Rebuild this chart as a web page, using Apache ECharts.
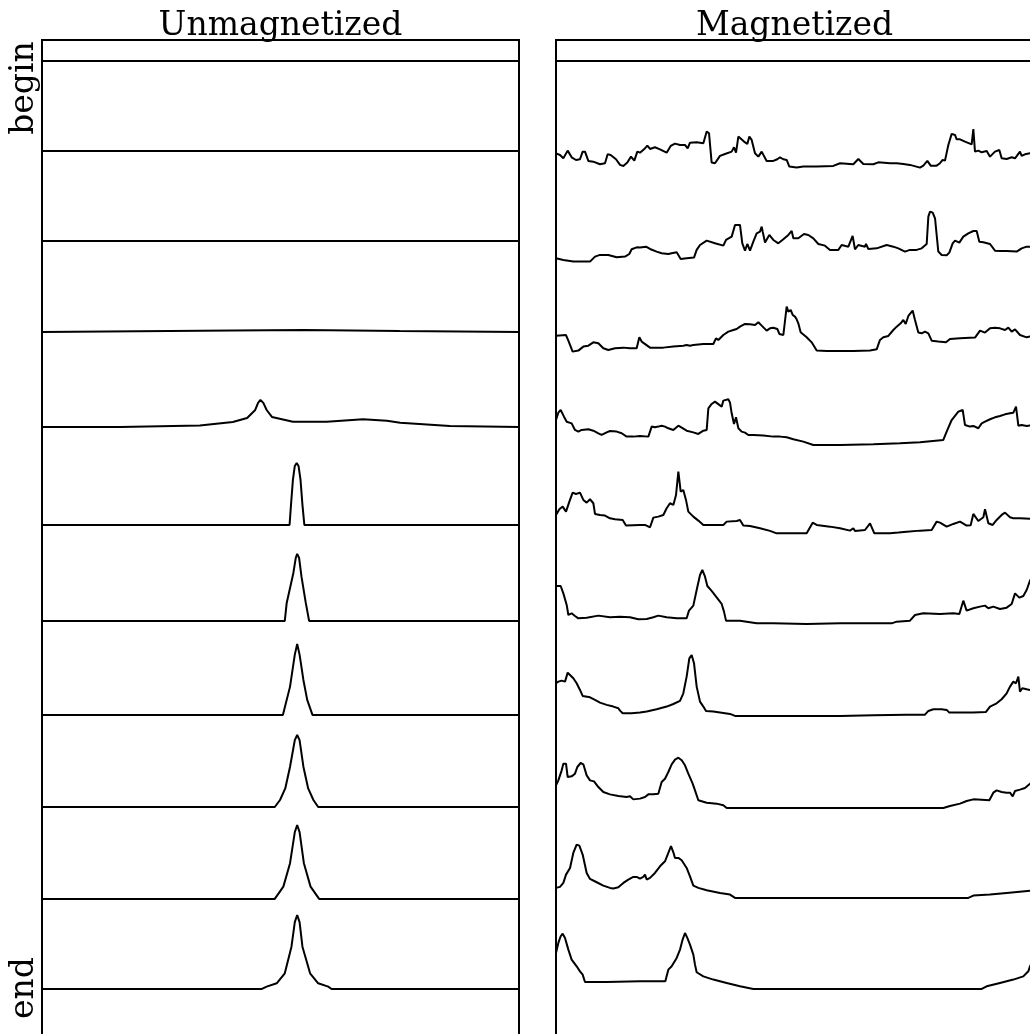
<!DOCTYPE html>
<html><head><meta charset="utf-8">
<script src="https://cdn.jsdelivr.net/npm/echarts@6/dist/echarts.min.js"></script>
<style>html,body{margin:0;padding:0;background:#fff;overflow:hidden}#c{width:1030px;height:1034px}</style>
</head><body><div id="c"></div>
<script>
// ---- labels ----
const panelTitles = ['Unmagnetized', 'Magnetized'];
const stageLabels = ['begin', 'end'];

// ---- trace offsets (in units of trace spacing, top = begin) ----
const baseUnmag = [10.0, 9.030, 8.060, 7.080, 6.056, 5.0, 3.966, 2.953, 1.961, 0.970, 0];
const baseMag   = [10.0, 8.858, 7.845, 6.875, 5.862, 4.914, 3.933, 2.942, 1.950, 0.981, 0];

// ---- Unmagnetized profiles: [position %, height] ----
const unmag0 = [[0,0],[100,0]];
const unmag1 = [[0,0],[100,0]];
const unmag2 = [[0,0],[100,0]];
const unmag3 = [[0,0],[40,0.015],[55,0.02],[75,0.01],[100,0]];
const unmag4 = [[0,0],[16.4,0],[33.1,0.016],[40.0,0.054],[43.0,0.097],[44.7,0.183],[45.3,0.26],[45.8,0.291],[46.4,0.26],[47.1,0.183],[48.2,0.108],[52.6,0.057],[59.7,0.057],[67.3,0.083],[72.3,0.068],[75.1,0.046],[85.5,0.011],[100,0]];
const unmag5 = [[0,0],[51.9,0],[52.2,0.216],[52.6,0.485],[53.0,0.636],[53.4,0.668],[53.78,0.636],[54.2,0.485],[54.6,0.216],[55.0,0],[100,0]];
const unmag6 = [[0,0],[50.9,0],[51.3,0.194],[52.7,0.517],[53.2,0.68],[53.5,0.722],[53.9,0.68],[54.4,0.477],[55.3,0.194],[56.0,0],[100,0]];
const unmag7 = [[0,0],[50.5,0],[52.0,0.305],[53.0,0.65],[53.5,0.765],[54.0,0.65],[54.8,0.377],[55.6,0.162],[56.7,0],[100,0]];
const unmag8 = [[0,0],[48.8,0],[49.9,0.075],[51.0,0.2],[52.0,0.434],[53.0,0.72],[53.5,0.776],[54.0,0.72],[54.8,0.434],[55.8,0.2],[56.9,0.075],[57.9,0],[100,0]];
const unmag9 = [[0,0],[48.8,0],[50.6,0.133],[52.0,0.385],[53.0,0.72],[53.5,0.797],[54.0,0.72],[54.9,0.385],[56.3,0.133],[58.1,0],[100,0]];
const unmag10 = [[0,0],[46.1,0],[47.1,0.025],[49.2,0.061],[50.9,0.169],[52.3,0.455],[53.0,0.72],[53.5,0.797],[54.0,0.72],[54.6,0.455],[56.2,0.169],[57.9,0.061],[60.0,0.025],[60.7,0],[100,0]];

// ---- Magnetized profiles: [position %, height] ----
const mag0 = [[0,0],[100,0]];
const mag1 = [[0,0.147],[0.84,0.129],[1.54,0.093],[2.45,0.176],[3.28,0.104],[4.19,0.075],[5.03,0.083],[5.59,0.165],[6.08,0.165],[6.78,0.065],[7.83,0.057],[9.22,0.029],[10.27,0.040],[10.83,0.136],[11.46,0.129],[12.58,0.083],[13.42,0.022],[14.12,0.011],[14.95,0.047],[15.72,0.111],[16.42,0.068],[17.05,0.165],[17.61,0.154],[18.45,0.190],[19.15,0.230],[19.71,0.194],[20.75,0.212],[21.80,0.190],[23.20,0.154],[24.04,0.226],[24.95,0.251],[26.00,0.237],[27.04,0.237],[27.60,0.201],[28.09,0.262],[29.49,0.266],[30.89,0.255],[31.59,0.381],[32.08,0.363],[32.63,0.047],[33.33,0.040],[34.38,0.119],[35.43,0.140],[36.83,0.165],[37.32,0.212],[37.74,0.154],[38.23,0.327],[39.41,0.273],[40.11,0.248],[40.53,0.327],[41.02,0.291],[41.72,0.147],[42.42,0.111],[43.12,0.165],[43.47,0.176],[44.16,0.065],[45.56,0.065],[46.40,0.083],[46.96,0.104],[47.66,0.083],[48.36,0.075],[48.92,0.004],[50.45,-0.007],[51.85,0.004],[54.65,0.004],[58.14,0.011],[59.54,0.040],[62.33,0.029],[63.38,0.086],[64.43,0.032],[66.53,0.029],[67.57,0.050],[70.02,0.040],[71.42,0.040],[72.82,0.032],[74.21,0.022],[76.31,-0.007],[77.01,0.014],[77.85,0.065],[78.55,0.014],[79.80,0.014],[80.50,0.040],[81.06,0.075],[81.55,0.068],[82.25,0.237],[82.95,0.356],[83.65,0.345],[84.00,0.298],[84.70,0.298],[85.74,0.273],[87.14,0.244],[87.49,0.409],[87.84,0.165],[88.54,0.176],[89.24,0.158],[90.29,0.172],[90.99,0.111],[92.03,0.165],[92.94,0.183],[93.43,0.093],[94.48,0.086],[95.53,0.104],[96.23,0.093],[97.27,0.165],[97.62,0.119],[98.32,0.136],[99.37,0.147],[100,0.147]];
const mag2 = [[0,0.029],[1.54,0.011],[3.63,-0.007],[7.13,-0.007],[8.18,0.047],[9.22,0.065],[10.97,0.065],[12.72,0.040],[14.47,0.047],[15.37,0.075],[15.86,0.126],[16.91,0.147],[17.61,0.144],[18.87,0.154],[19.71,0.129],[21.10,0.101],[22.15,0.083],[23.55,0.075],[24.25,0.083],[25.30,0.093],[25.65,0.083],[26.14,0.022],[27.39,0.029],[28.93,0.036],[29.49,0.119],[30.19,0.172],[31.59,0.219],[33.33,0.190],[35.08,0.165],[35.64,0.226],[36.83,0.262],[37.53,0.388],[38.57,0.388],[39.06,0.190],[39.62,0.111],[40.11,0.183],[40.67,0.111],[41.37,0.208],[42.07,0.298],[42.77,0.316],[43.12,0.370],[43.33,0.316],[43.82,0.198],[44.72,0.280],[45.56,0.226],[46.61,0.190],[47.66,0.233],[48.71,0.280],[49.41,0.323],[49.76,0.244],[50.80,0.244],[51.99,0.291],[52.90,0.280],[53.95,0.244],[55.00,0.183],[56.39,0.165],[57.44,0.119],[59.19,0.119],[59.89,0.172],[61.29,0.154],[62.19,0.269],[62.68,0.126],[63.38,0.172],[64.78,0.154],[64.99,0.183],[65.48,0.129],[67.23,0.136],[69.32,0.172],[70.72,0.154],[71.77,0.136],[73.17,0.101],[74.21,0.119],[75.61,0.119],[76.66,0.136],[77.71,0.183],[78.06,0.478],[78.41,0.532],[78.97,0.521],[79.46,0.460],[80.15,0.101],[80.85,0.065],[81.90,0.061],[82.46,0.090],[83.16,0.190],[83.65,0.219],[84.00,0.208],[84.56,0.198],[85.39,0.262],[86.44,0.298],[87.49,0.323],[88.19,0.323],[88.75,0.208],[89.59,0.201],[90.99,0.183],[92.03,0.111],[93.08,0.108],[94.48,0.108],[96.58,0.101],[97.62,0.136],[98.67,0.154],[100,0.154]];
const mag3 = [[0,0.165],[2.10,0.172],[2.59,0.111],[3.49,-0.007],[4.68,0.004],[5.73,0.047],[6.78,0.057],[7.83,0.093],[8.88,0.083],[9.92,0.029],[10.97,0.011],[12.37,0.029],[14.12,0.036],[15.51,0.029],[16.91,0.029],[17.47,0.147],[17.96,0.101],[19.71,0.036],[22.50,0.036],[24.60,0.047],[26.69,0.057],[27.39,0.065],[27.74,0.083],[28.09,0.057],[28.79,0.065],[30.89,0.075],[32.98,0.075],[33.54,0.136],[34.03,0.119],[35.08,0.172],[36.13,0.208],[37.18,0.226],[37.88,0.237],[38.57,0.262],[39.62,0.291],[40.67,0.287],[41.72,0.280],[42.42,0.309],[42.77,0.327],[43.33,0.262],[44.16,0.219],[44.86,0.244],[45.56,0.251],[46.40,0.237],[46.82,0.183],[47.66,0.172],[48.36,0.478],[48.71,0.424],[49.20,0.442],[49.62,0.388],[50.10,0.370],[50.45,0.341],[50.80,0.298],[51.29,0.201],[52.55,0.147],[53.60,0.093],[54.65,0.004],[56.74,0],[62.33,0],[65.83,0.004],[67.23,0.018],[67.92,0.119],[68.62,0.147],[69.67,0.162],[70.72,0.226],[71.42,0.262],[72.26,0.298],[72.82,0.334],[73.31,0.291],[73.87,0.377],[74.77,0.435],[75.26,0.334],[75.96,0.198],[76.66,0.190],[77.36,0.208],[78.06,0.190],[78.76,0.111],[80.15,0.101],[81.76,0.093],[82.60,0.129],[84.70,0.136],[87.84,0.144],[88.89,0.219],[89.94,0.198],[90.99,0.244],[92.03,0.251],[93.08,0.244],[94.13,0.226],[94.83,0.251],[95.53,0.208],[96.23,0.233],[97.27,0.172],[98.67,0.147],[100,0.162]];
const mag4 = [[0,0.269],[0.49,0.348],[0.98,0.377],[1.68,0.305],[2.24,0.251],[3.28,0.233],[3.98,0.162],[4.68,0.144],[5.38,0.162],[6.78,0.169],[7.83,0.154],[8.88,0.126],[9.57,0.108],[10.62,0.136],[11.32,0.151],[12.72,0.144],[13.77,0.126],[14.81,0.090],[16.21,0.090],[17.61,0.097],[19.36,0.090],[20.06,0.198],[20.75,0.190],[21.45,0.198],[22.15,0.208],[22.85,0.198],[23.55,0.180],[24.60,0.162],[25.65,0.208],[26.35,0.187],[27.39,0.154],[28.79,0.136],[29.84,0.119],[30.89,0.154],[31.59,0.162],[31.94,0.395],[32.63,0.442],[33.33,0.467],[33.68,0.456],[34.73,0.413],[35.08,0.478],[36.13,0.492],[36.48,0.456],[36.83,0.341],[37.32,0.226],[37.74,0.298],[38.23,0.180],[38.92,0.144],[39.62,0.133],[40.32,0.108],[41.37,0.108],[43.47,0.101],[45.56,0.090],[46.96,0.090],[48.36,0.083],[49.76,0.061],[51.85,0.036],[53.95,0],[59.54,0],[66.53,0.007],[72.12,0.018],[76.31,0.029],[81.20,0.054],[81.90,0.144],[82.95,0.269],[84.35,0.359],[85.26,0.377],[85.74,0.216],[86.79,0.198],[87.49,0.205],[88.54,0.180],[89.24,0.233],[89.94,0.251],[90.99,0.277],[92.03,0.298],[93.08,0.313],[94.13,0.330],[95.18,0.341],[95.88,0.348],[96.44,0.413],[96.93,0.208],[97.62,0.216],[98.67,0.205],[100,0.216]];
const mag5 = [[0,0.194],[0.70,0.255],[1.40,0.284],[2.10,0.230],[2.80,0.338],[3.49,0.435],[4.19,0.420],[5.03,0.435],[5.73,0.356],[6.43,0.327],[7.13,0.363],[7.83,0.320],[8.18,0.205],[9.22,0.194],[10.27,0.187],[11.32,0.158],[12.37,0.147],[13.98,0.140],[14.68,0.079],[17.61,0.086],[18.66,0.086],[19.71,0.061],[20.41,0.165],[21.45,0.176],[22.50,0.194],[23.20,0.266],[23.90,0.320],[24.60,0.302],[25.16,0.409],[25.65,0.661],[26.14,0.445],[26.69,0.463],[27.25,0.356],[27.74,0.230],[28.79,0.176],[29.84,0.133],[30.89,0.086],[32.98,0.086],[35.08,0.086],[35.78,0.122],[37.88,0.129],[38.57,0.140],[39.27,0.079],[40.67,0.075],[42.77,0.050],[44.86,0.022],[46.26,-0.004],[49.06,-0.004],[52.55,-0.004],[53.81,0.111],[54.65,0.086],[57.44,0.068],[59.54,0.050],[61.64,0.025],[62.33,0.050],[62.68,0.022],[64.78,0.032],[65.83,0.104],[66.74,-0.004],[70.02,-0.004],[71.77,0.004],[73.52,0.014],[76.31,0.025],[78.76,0.032],[79.80,0.122],[80.50,0.111],[81.90,0.068],[83.30,0.097],[84.70,0.122],[86.09,0.079],[86.93,0.083],[87.49,0.205],[88.54,0.129],[89.59,0.169],[89.94,0.255],[90.64,0.104],[91.54,0.086],[92.38,0.140],[93.43,0.194],[94.13,0.219],[95.18,0.169],[95.88,0.158],[96.23,0.140],[97.27,0.158],[100,0.151]];
const mag6 = [[0,0.409],[0.98,0.409],[1.54,0.330],[2.24,0.205],[2.59,0.097],[3.28,0.115],[3.98,0.086],[4.68,0.061],[6.43,0.068],[8.88,0.090],[11.32,0.072],[13.42,0.079],[15.51,0.072],[17.26,0.050],[19.01,0.054],[20.41,0.072],[21.45,0.090],[23.20,0.072],[25.30,0.061],[27.39,0.061],[27.88,0.144],[28.79,0.198],[29.49,0.366],[30.19,0.528],[30.68,0.582],[31.24,0.510],[31.73,0.409],[32.63,0.356],[33.68,0.287],[34.73,0.216],[35.22,0.133],[35.64,0.036],[38.57,0.036],[42.07,0.007],[45.56,0.007],[52.55,0],[59.54,0.007],[66.53,0.007],[70.37,0.007],[71.42,0.025],[74.21,0.036],[75.26,0.097],[77.01,0.115],[80.50,0.108],[83.30,0.115],[84.56,0.108],[85.39,0.251],[86.09,0.144],[87.49,0.169],[88.89,0.187],[89.94,0.198],[90.64,0.169],[91.68,0.187],[93.08,0.162],[94.48,0.176],[95.53,0.216],[96.23,0.330],[97.13,0.284],[97.97,0.302],[98.67,0.366],[99.37,0.467],[100,0.52]];
const mag7 = [[0,0.352],[0.49,0.370],[1.19,0.381],[1.89,0.370],[2.45,0.467],[2.94,0.442],[3.63,0.406],[4.33,0.352],[5.03,0.280],[5.59,0.216],[7.13,0.201],[8.18,0.172],[9.22,0.144],[10.62,0.119],[12.02,0.101],[13.07,0.083],[13.42,0.057],[13.98,0.029],[15.86,0.029],[17.61,0.036],[19.01,0.047],[21.10,0.072],[23.20,0.101],[24.60,0.129],[26.00,0.162],[26.69,0.244],[27.39,0.424],[27.95,0.621],[28.44,0.657],[28.93,0.568],[29.49,0.316],[30.19,0.154],[30.89,0.101],[31.45,0.054],[32.98,0.047],[36.48,0.022],[37.53,0],[45.56,0],[52.55,0],[59.54,0],[66.53,0.007],[73.52,0.014],[77.36,0.014],[78.06,0.054],[79.11,0.072],[80.85,0.072],[81.90,0.065],[82.46,0.036],[84.70,0.036],[87.49,0.036],[90.15,0.043],[90.99,0.101],[92.38,0.136],[93.43,0.180],[94.48,0.244],[95.18,0.316],[95.88,0.370],[96.44,0.352],[96.93,0.424],[97.27,0.262],[97.76,0.298],[98.67,0.287],[100,0.273]];
const mag8 = [[0,0.244],[0.49,0.298],[1.19,0.406],[1.54,0.478],[2.10,0.478],[2.45,0.334],[3.28,0.341],[3.98,0.370],[4.47,0.442],[5.17,0.485],[5.73,0.471],[6.43,0.352],[7.13,0.298],[7.97,0.287],[8.88,0.226],[9.92,0.172],[11.32,0.147],[13.07,0.129],[14.81,0.119],[15.51,0.126],[16.21,0.093],[17.61,0.101],[18.66,0.119],[19.36,0.147],[20.41,0.147],[21.45,0.154],[22.15,0.280],[22.85,0.316],[23.55,0.388],[24.25,0.471],[24.95,0.521],[25.65,0.542],[26.35,0.514],[27.04,0.460],[27.74,0.370],[28.65,0.262],[29.14,0.190],[29.84,0.083],[31.59,0.057],[33.68,0.047],[35.08,0.029],[35.78,0],[45.56,0],[59.54,0],[73.52,0],[81.20,0],[82.60,0.022],[84.70,0.047],[86.09,0.075],[87.49,0.093],[89.24,0.090],[90.85,0.083],[91.68,0.165],[92.38,0.190],[93.43,0.172],[94.48,0.165],[95.18,0.165],[95.74,0.126],[96.23,0.183],[97.27,0.198],[98.32,0.216],[99.37,0.262],[100,0.29]];
const mag9 = [[0,0.108],[0.84,0.119],[1.54,0.162],[2.10,0.251],[2.94,0.323],[3.63,0.485],[4.33,0.575],[4.89,0.564],[5.59,0.467],[6.43,0.269],[7.13,0.205],[8.53,0.169],[9.92,0.133],[11.32,0.108],[12.02,0.101],[13.07,0.115],[14.12,0.162],[15.16,0.198],[16.21,0.226],[16.91,0.226],[17.61,0.208],[18.31,0.226],[18.66,0.251],[19.01,0.198],[19.71,0.216],[20.75,0.269],[21.80,0.341],[22.85,0.395],[23.55,0.485],[24.11,0.557],[24.60,0.492],[24.95,0.431],[25.65,0.431],[26.35,0.406],[27.39,0.323],[28.09,0.233],[28.79,0.133],[29.84,0.108],[31.59,0.083],[34.38,0.054],[36.48,0.036],[37.53,0],[45.56,0],[59.54,0],[73.52,0],[86.44,0],[87.49,0.025],[90.99,0.036],[94.48,0.054],[100,0.081]];
const mag10 = [[0,0.388],[0.49,0.496],[0.98,0.568],[1.40,0.596],[1.89,0.550],[2.59,0.424],[3.28,0.316],[4.33,0.244],[5.03,0.190],[5.59,0.154],[6.08,0.075],[10.62,0.075],[17.61,0.083],[22.92,0.083],[23.55,0.208],[24.25,0.244],[25.30,0.334],[26.00,0.424],[26.55,0.532],[27.04,0.603],[27.53,0.550],[28.09,0.478],[28.79,0.370],[29.14,0.262],[29.49,0.180],[30.89,0.136],[32.98,0.101],[35.78,0.065],[38.57,0.029],[41.37,0],[52.55,0],[66.53,0],[80.50,0],[89.24,0],[90.29,0.029],[93.08,0.065],[95.88,0.101],[97.97,0.136],[99.02,0.190],[99.37,0.244],[100,0.30]];

const unmagTraces = [unmag0,unmag1,unmag2,unmag3,unmag4,unmag5,unmag6,unmag7,unmag8,unmag9,unmag10];
const magTraces = [mag0,mag1,mag2,mag3,mag4,mag5,mag6,mag7,mag8,mag9,mag10];

const chart = echarts.init(document.getElementById('c'), null, {renderer: 'canvas'});
const FONT = '"DejaVu Serif", "Liberation Serif", serif';

function mk(gi, prof, base) {
  return {
    type: 'line', xAxisIndex: gi, yAxisIndex: gi,
    data: prof.map(p => [p[0], base + p[1]]),
    symbol: 'none', showSymbol: false, silent: true, animation: false,
    lineStyle: {color: '#000', width: 2}, clip: true
  };
}

const series = [];
unmagTraces.forEach((t, i) => series.push(mk(0, t, baseUnmag[i])));
magTraces.forEach((t, i) => series.push(mk(1, t, baseMag[i])));

const yAx = {type: 'value', min: -0.55, max: 10.226, show: false};
const xAx = {type: 'value', min: 0, max: 100, show: false};

chart.setOption({
  backgroundColor: '#fff',
  animation: false,
  grid: [
    {left: 42, top: 40, width: 477, height: 1000, outerBoundsMode: 'none', containLabel: false, show: true, borderColor: '#000', borderWidth: 2, backgroundColor: 'transparent'},
    {left: 556, top: 40, width: 477, height: 1000, outerBoundsMode: 'none', containLabel: false, show: true, borderColor: '#000', borderWidth: 2, backgroundColor: 'transparent'}
  ],
  xAxis: [Object.assign({gridIndex: 0}, xAx), Object.assign({gridIndex: 1}, xAx)],
  yAxis: [Object.assign({gridIndex: 0}, yAx), Object.assign({gridIndex: 1}, yAx)],
  series: series,
  graphic: [
    {type: 'text', x: 280.5, y: 26, style: {text: panelTitles[0], font: '33px ' + FONT, fill: '#000', textAlign: 'center', textVerticalAlign: 'middle'}},
    {type: 'text', x: 794.5, y: 26, style: {text: panelTitles[1], font: '33px ' + FONT, fill: '#000', textAlign: 'center', textVerticalAlign: 'middle'}},
    {type: 'text', x: 24, y: 88, rotation: Math.PI / 2, style: {text: stageLabels[0], font: '33px ' + FONT, fill: '#000', textAlign: 'center', textVerticalAlign: 'middle'}},
    {type: 'text', x: 24, y: 988, rotation: Math.PI / 2, style: {text: stageLabels[1], font: '33px ' + FONT, fill: '#000', textAlign: 'center', textVerticalAlign: 'middle'}}
  ]
});
</script>
</body></html>
